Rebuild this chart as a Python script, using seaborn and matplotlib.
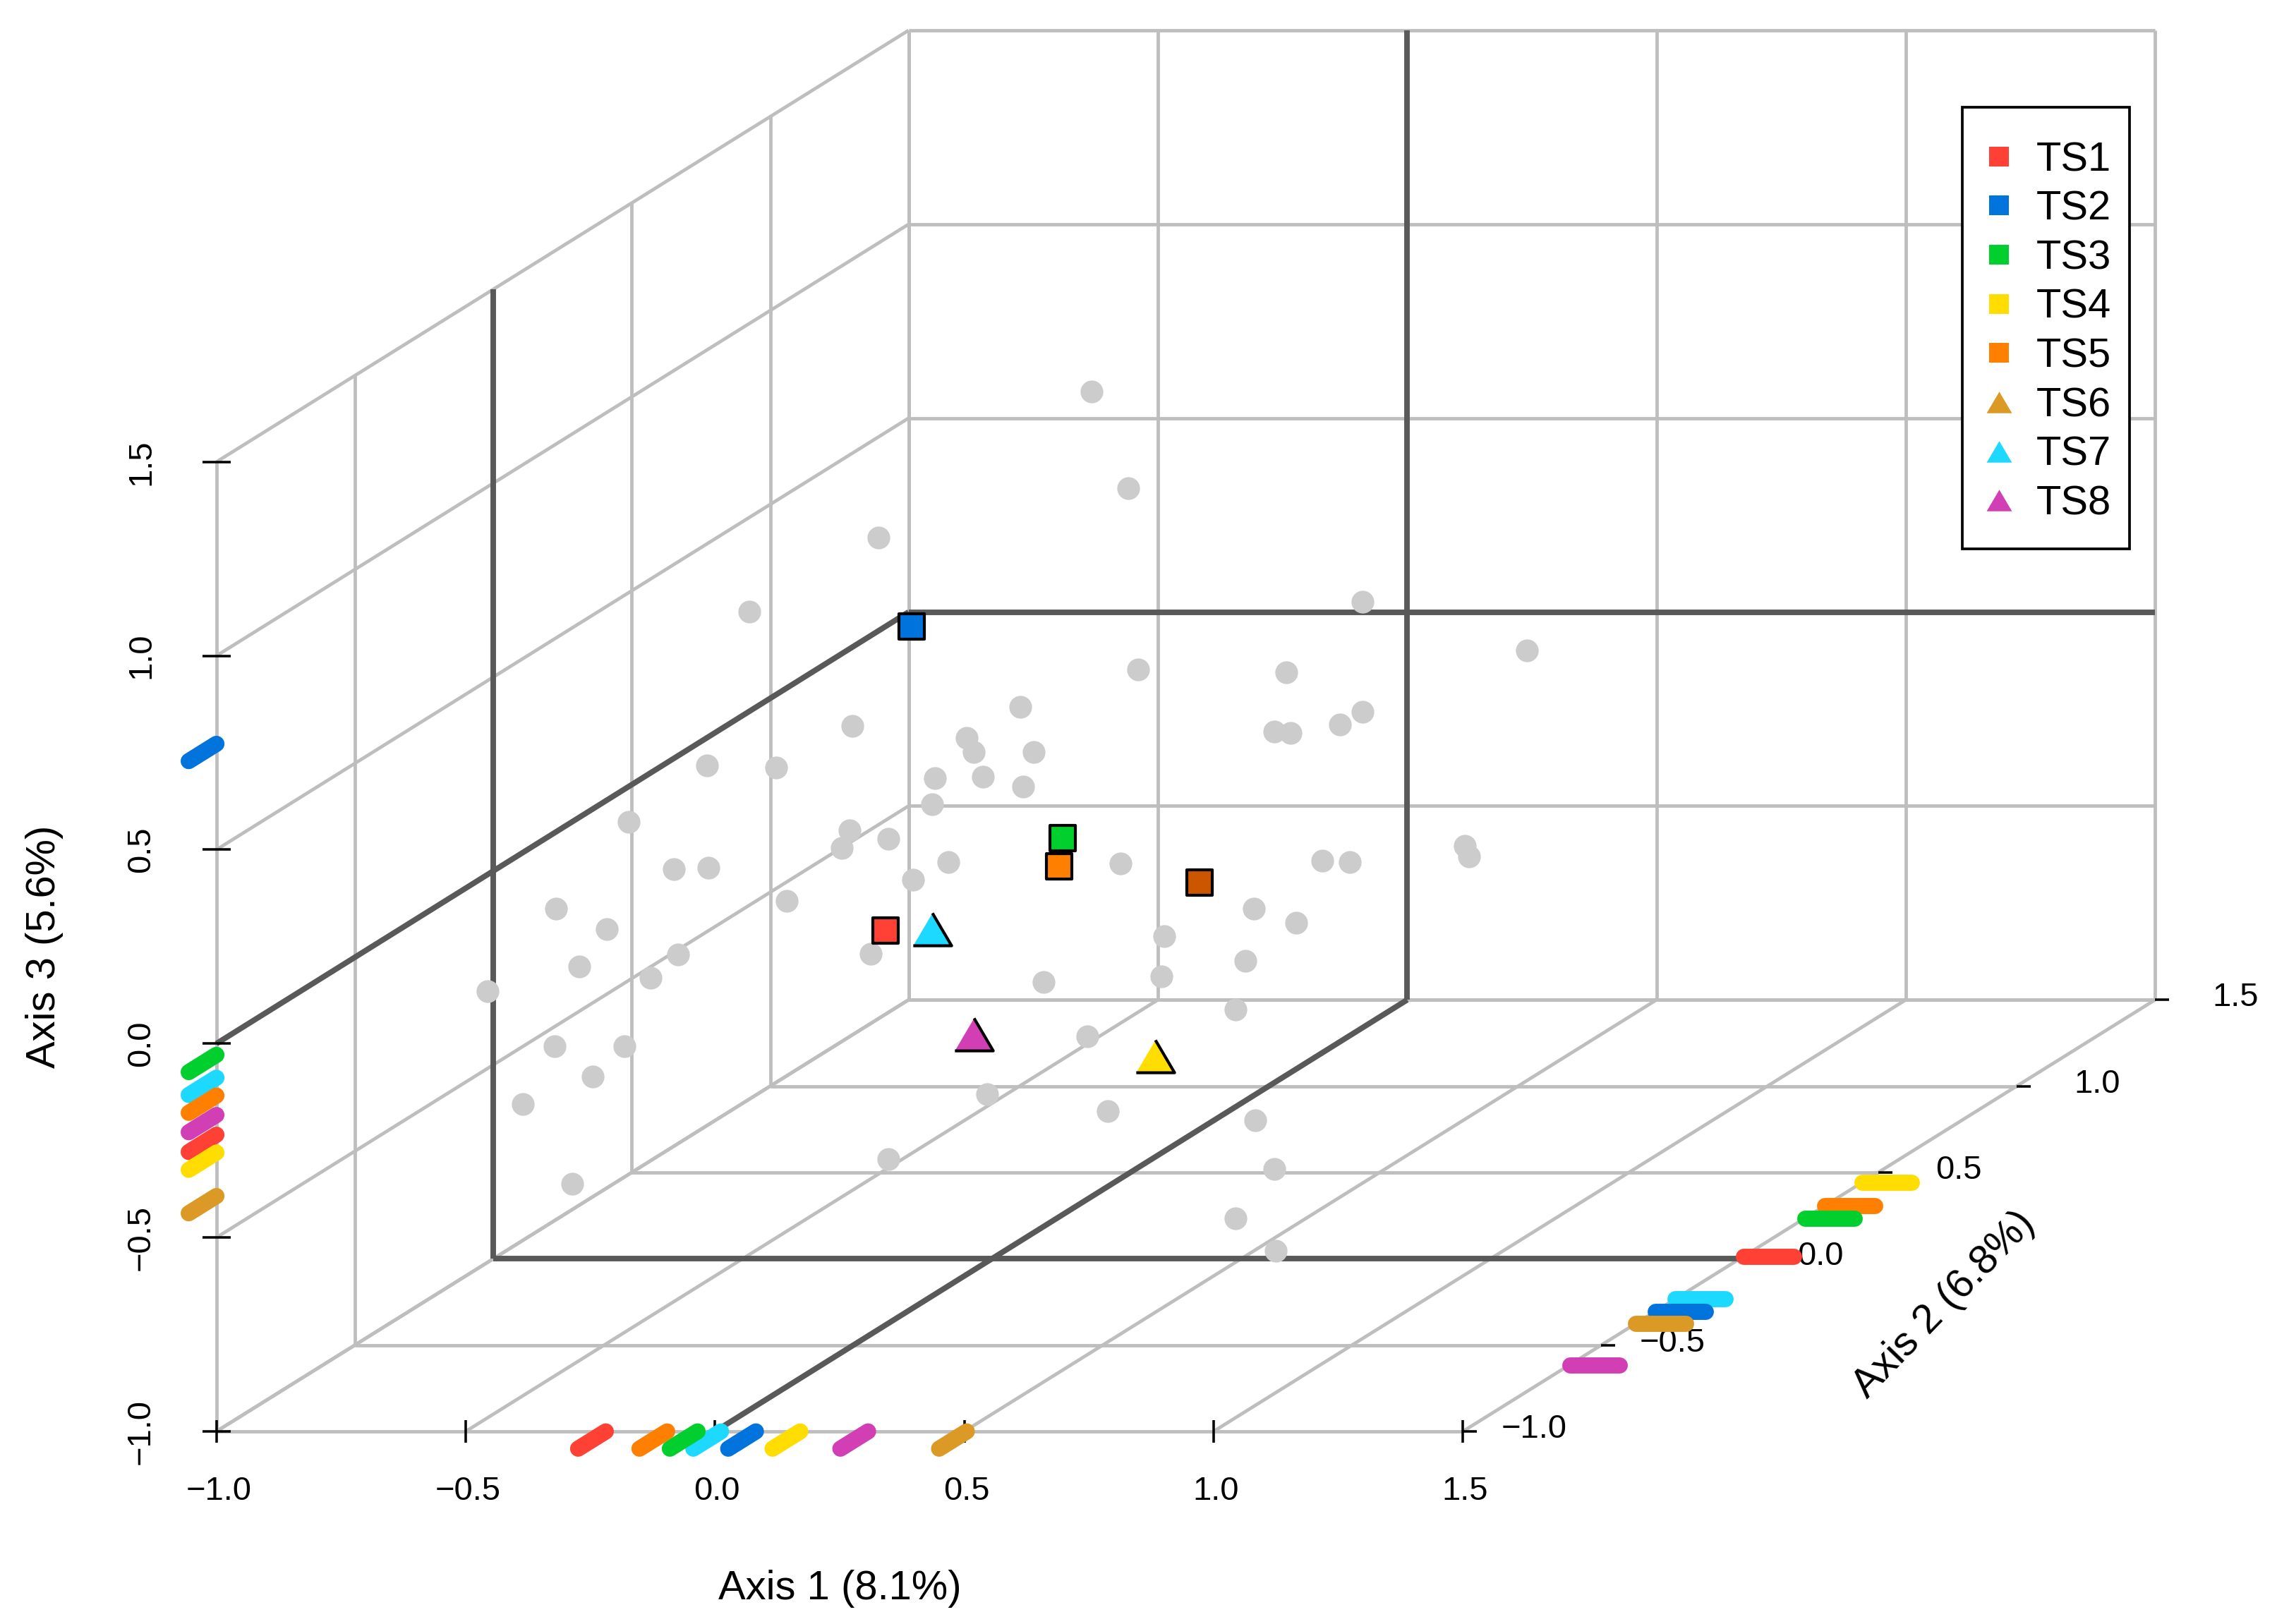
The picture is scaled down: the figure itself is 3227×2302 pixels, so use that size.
import numpy as np
import pandas as pd
import matplotlib
matplotlib.use('Agg')
import matplotlib.pyplot as plt
import seaborn as sns
from matplotlib.lines import Line2D
from matplotlib.patches import Rectangle

# group names and colours
groups = ['TS1', 'TS2', 'TS3', 'TS4', 'TS5', 'TS6', 'TS7', 'TS8']
group_colors = ['#FF4034', '#0073DD', '#00CF2D', '#FFDD00', '#FF7F00', '#DB9A25', '#1DD9FF', '#D23FB5']
group_legend_markers = ['s', 's', 's', 's', 's', 'tri', 'tri', 'tri']

# values of the rug marks on each axis
rug_axis1 = [-0.219, 0.082, -0.035, 0.171, -0.096, 0.505, 0.012, 0.307]
rug_axis2 = [0.015, -0.305, 0.235, 0.441, 0.308, -0.376, -0.233, -0.614]
rug_axis3 = [-0.235, 0.773, -0.029, -0.281, -0.134, -0.393, -0.088, -0.184]
rug_order = [6, 4, 7, 0, 3, 2, 1, 5]

# the eight outlined points (fill colours as they appear inside the plot)
point_axis1 = [-0.222, 0.008, 0.012, -0.036, 0.171, 0.009, 0.304, 0.536]
point_axis2 = [0.015, -0.305, 0.235, 0.308, 0.441, -0.233, -0.614, -0.376]
point_axis3 = [-0.161, 0.766, -0.019, -0.126, -0.226, -0.047, -0.148, -0.310]
point_colors = ['#FF4034', '#0073DD', '#00CF2D', '#FF7F00', '#CC5500', '#1DD9FF', '#D23FB5', '#FFDD00']
point_shapes = ['s', 's', 's', 's', 's', 'tri', 'tri', 'tri']

# grey points, depth can't be read from the picture so they sit on the axis 2 = 0 plane
grey_axis1 = [0.200, 0.273, -0.228, -0.487, 0.744, 1.073, 0.590, 0.293, 0.744, 0.698, 0.567, 0.599,
              0.057, -0.050, -0.036, 0.084, -0.018, -0.114, 0.063, -0.120, -0.280, -0.571, -0.432,
              -0.729, -0.286, -0.301, -0.208, -0.088, 0.258, 0.663, 0.718, 0.948, 0.957, -0.638,
              -0.569, -0.158, -0.411, -0.874, -0.772, 0.526, 0.610, -0.828, -0.630, -0.685, -0.243,
              0.346, 0.340, 0.509, 0.104, -1.011, 0.488, -0.877, -0.737, -0.801, 0.191, -0.010,
              -0.941, 0.232, 0.529, -0.842, -0.208, 0.567, 0.488, 0.570]
grey_axis3 = [1.237, 0.987, 0.860, 0.669, 0.695, 0.568, 0.512, 0.520, 0.411, 0.378, 0.359, 0.355,
              0.423, 0.344, 0.307, 0.307, 0.243, 0.240, 0.217, 0.172, 0.374, 0.273, 0.266,
              0.127, 0.105, 0.060, 0.083, 0.023, 0.019, 0.027, 0.023, 0.064, 0.038, 0.004,
              0.008, -0.022, -0.078, -0.097, -0.149, -0.097, -0.134, -0.246, -0.216, -0.276, -0.213,
              -0.168, -0.272, -0.231, -0.287, -0.310, -0.358, -0.452, -0.452, -0.530, -0.426, -0.575,
              -0.601, -0.620, -0.642, -0.807, -0.743, -0.769, -0.896, -0.979]

ticks = [-1.0, -0.5, 0.0, 0.5, 1.0, 1.5]
tick_labels = ['\u22121.0', '\u22120.5', '0.0', '0.5', '1.0', '1.5']

GRID = '#BEBEBE'
DARK = '#595959'
TRI = [(-1, -0.85), (1, -0.85), (0, 0.85)]


def project(a1, a2, a3):
    # oblique projection of the three axes onto the image, in pixels
    a1, a2, a3 = np.asarray(a1, float), np.asarray(a2, float), np.asarray(a3, float)
    sx = 306.7 + 706.6 * (a1 + 1) + 392.4 * (a2 + 1)
    sy = 2029.0 - 549.7 * (a3 + 1) - 244.7 * (a2 + 1)
    return sx, sy


def seg(ax, p0, p1, **kw):
    sx, sy = project(*zip(p0, p1))
    ax.plot(sx, sy, **kw)


def create_plot():
    sns.set_theme(style="white")
    plt.rcParams['font.family'] = ['Liberation Sans', 'DejaVu Sans']

    fig = plt.figure(figsize=(3227 / 300, 2302 / 300), dpi=300)
    ax = fig.add_axes([0, 0, 1, 1])
    ax.set_xlim(0, 3227)
    ax.set_ylim(2302, 0)
    ax.axis('off')

    lo, hi = ticks[0], ticks[-1]
    grid_kw = dict(color=GRID, lw=1.15, zorder=1, solid_capstyle='butt')
    dark_kw = dict(color=DARK, lw=1.9, zorder=2, solid_capstyle='butt')

    # floor, left wall and back wall
    for t in ticks:
        seg(ax, (t, lo, lo), (t, hi, lo), **grid_kw)
        seg(ax, (lo, t, lo), (hi, t, lo), **grid_kw)
        seg(ax, (lo, t, lo), (lo, t, hi), **grid_kw)
        seg(ax, (lo, lo, t), (lo, hi, t), **grid_kw)
        seg(ax, (t, hi, lo), (t, hi, hi), **grid_kw)
        seg(ax, (lo, hi, t), (hi, hi, t), **grid_kw)

    # zero lines
    seg(ax, (lo, lo, 0), (lo, hi, 0), **dark_kw)
    seg(ax, (lo, hi, 0), (hi, hi, 0), **dark_kw)
    seg(ax, (lo, 0, lo), (lo, 0, hi), **dark_kw)
    seg(ax, (lo, 0, lo), (hi, 0, lo), **dark_kw)
    seg(ax, (0, lo, lo), (0, hi, lo), **dark_kw)
    seg(ax, (0, hi, lo), (0, hi, hi), **dark_kw)

    # ticks and tick labels
    tick_kw = dict(color='black', lw=0.85, zorder=3, solid_capstyle='butt')
    for t, lab in zip(ticks, tick_labels):
        sx, sy = project(t, lo, lo)
        ax.plot([sx, sx], [sy - 16, sy + 16], **tick_kw)
        ax.text(sx + 3, 2114, lab, fontsize=11.3, ha='center', va='center', color='black')

        sx, sy = project(lo, lo, t)
        ax.plot([sx - 20, sx + 20], [sy, sy], **tick_kw)
        ax.text(200, sy, lab, fontsize=11.3, rotation=90, ha='center', va='center', color='black')

        sx, sy = project(hi, t, lo)
        ax.plot([sx, sx + 20], [sy, sy], **tick_kw)
        ax.text(sx + 147, sy - 3, lab, fontsize=11.3, ha='right', va='center', color='black')

    # rugs
    rug_kw = dict(lw=5.5, solid_capstyle='round', zorder=4)
    for i in rug_order:
        seg(ax, (rug_axis1[i], lo, lo), (rug_axis1[i], lo - 0.1, lo), color=group_colors[i], **rug_kw)
        seg(ax, (hi, rug_axis2[i], lo), (hi + 0.1, rug_axis2[i], lo), color=group_colors[i], **rug_kw)
        seg(ax, (lo, lo, rug_axis3[i]), (lo, lo - 0.1, rug_axis3[i]), color=group_colors[i], **rug_kw)

    # grey points
    gx, gy = project(grey_axis1, np.zeros(len(grey_axis1)), grey_axis3)
    grey = pd.DataFrame({'sx': gx, 'sy': gy})
    sns.scatterplot(data=grey, x='sx', y='sy', ax=ax, color='#CCCCCC', s=60, linewidth=0, zorder=5, legend=False)

    # outlined points
    px, py = project(point_axis1, point_axis2, point_axis3)
    pts = pd.DataFrame({'sx': px, 'sy': py, 'color': point_colors, 'shape': point_shapes})
    for _, row in pts.iterrows():
        is_tri = row['shape'] == 'tri'
        sns.scatterplot(x=[row['sx']], y=[row['sy']], ax=ax, color=row['color'],
                        marker=TRI if is_tri else 's', s=170 if is_tri else 78,
                        edgecolor='black', linewidth=1.0, zorder=6, legend=False)
    ax.set_xlim(0, 3227)
    ax.set_ylim(2302, 0)
    ax.set_xlabel('')
    ax.set_ylabel('')

    # axis titles
    ax.text(1190, 2252, 'Axis 1 (8.1%)', fontsize=13.9, ha='center', va='center', color='black')
    ax.text(2755, 1849, 'Axis 2 (6.8%)', fontsize=13.9, rotation=46, ha='center', va='center',
            rotation_mode='anchor', color='black')
    ax.text(63, 1342, 'Axis 3 (5.6%)', fontsize=13.9, rotation=90, ha='center', va='center', color='black')

    # legend
    ax.add_patch(Rectangle((2781, 152), 237, 626, facecolor='white', edgecolor='black', lw=0.9, zorder=7))
    handles = []
    for name, col, shape in zip(groups, group_colors, group_legend_markers):
        handles.append(Line2D([], [], linestyle='none', color=col, markeredgewidth=0,
                              marker=TRI if shape == 'tri' else 's',
                              markersize=8.6 if shape == 'tri' else 6.5, label=name))
    leg = ax.legend(handles=handles, loc='upper left', bbox_to_anchor=(2822, 200),
                    bbox_transform=ax.transData, frameon=False, fontsize=13.9, borderpad=0,
                    borderaxespad=0, handlelength=0.38, handletextpad=0.72, labelspacing=0.27,
                    numpoints=1)
    leg.set_zorder(8)
    for txt in leg.get_texts():
        txt.set_color('black')

    plt.savefig('out.png', dpi=300)


if __name__ == '__main__':
    create_plot()
